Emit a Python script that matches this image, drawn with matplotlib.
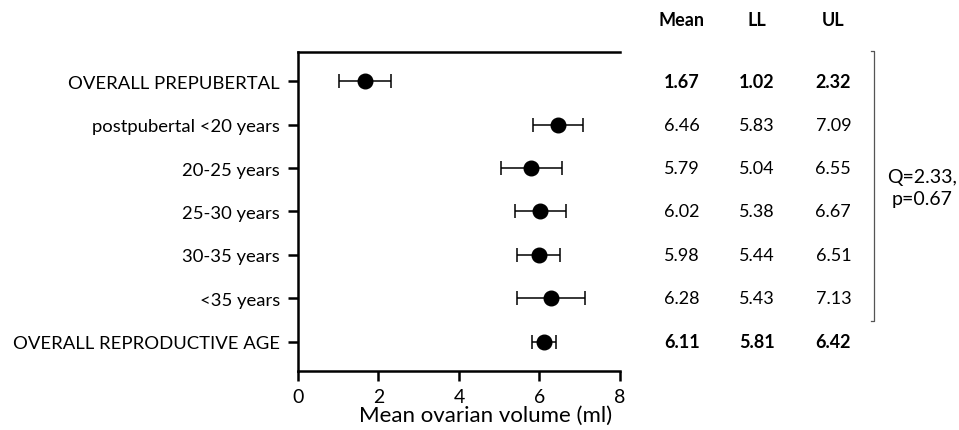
import matplotlib.pyplot as plt
import matplotlib.transforms as mtransforms

plt.rcParams['font.family'] = ['Lato', 'DejaVu Sans']

labels = ['OVERALL PREPUBERTAL', 'postpubertal <20 years', '20-25 years', '25-30 years',
          '30-35 years', '<35 years', 'OVERALL REPRODUCTIVE AGE']
means = [1.67, 6.46, 5.79, 6.02, 5.98, 6.28, 6.11]
lower = [1.02, 5.83, 5.04, 5.38, 5.44, 5.43, 5.81]
upper = [2.32, 7.09, 6.55, 6.67, 6.51, 7.13, 6.42]
bold_rows = [0, 6]
q_text = 'Q=2.33,\np=0.67'

fig = plt.figure(figsize=(9.59, 4.31), dpi=100)
ax = fig.add_axes([0.3107, 0.137, 0.3358, 0.740])

ypos = list(range(len(labels)))
xerr = [[m - l for m, l in zip(means, lower)], [u - m for m, u in zip(means, upper)]]
ax.errorbar(means, ypos, xerr=xerr, fmt='o', color='black', ms=10.5, elinewidth=1.1,
            capsize=4.7, capthick=1.1)

ax.set_ylim(len(labels) - 1 + 0.67, -0.67)
ax.set_xlim(0, 8)
ax.set_xticks([0, 2, 4, 6, 8])
ax.set_yticks(ypos)
ax.set_yticklabels(labels)
ax.tick_params(axis='y', labelsize=13.3, width=1.8, length=7, pad=6)
ax.tick_params(axis='x', labelsize=14, width=1.8, length=7, pad=5)
ax.set_xlabel('Mean ovarian volume (ml)', fontsize=16, labelpad=0, x=0.582)
for s in ['left', 'bottom', 'top']:
    ax.spines[s].set_linewidth(1.8)
ax.spines['right'].set_visible(False)

# side table
trans = mtransforms.blended_transform_factory(fig.transFigure, ax.transData)
cols_x = [0.711, 0.789, 0.869]
for x, h in zip(cols_x, ['Mean', 'LL', 'UL']):
    fig.text(x, 0.953, h, ha='center', va='center', fontsize=13, fontweight='bold')
for i in ypos:
    w = 'bold' if i in bold_rows else 'normal'
    for x, v in zip(cols_x, [means[i], lower[i], upper[i]]):
        ax.text(x, i, f'{v:.2f}', transform=trans, ha='center', va='center',
                fontsize=13, fontweight=w, clip_on=False)

# bracket
bx = 0.911
ax.plot([bx - 0.003, bx, bx, bx - 0.003], [-0.69, -0.69, 5.53, 5.53], transform=trans,
        color='#555555', lw=0.9, clip_on=False)
ax.text(0.962, 2.45, q_text, transform=trans, ha='center', va='center', fontsize=14,
        linespacing=1.35, clip_on=False)

fig.savefig('out.png', dpi=100)
